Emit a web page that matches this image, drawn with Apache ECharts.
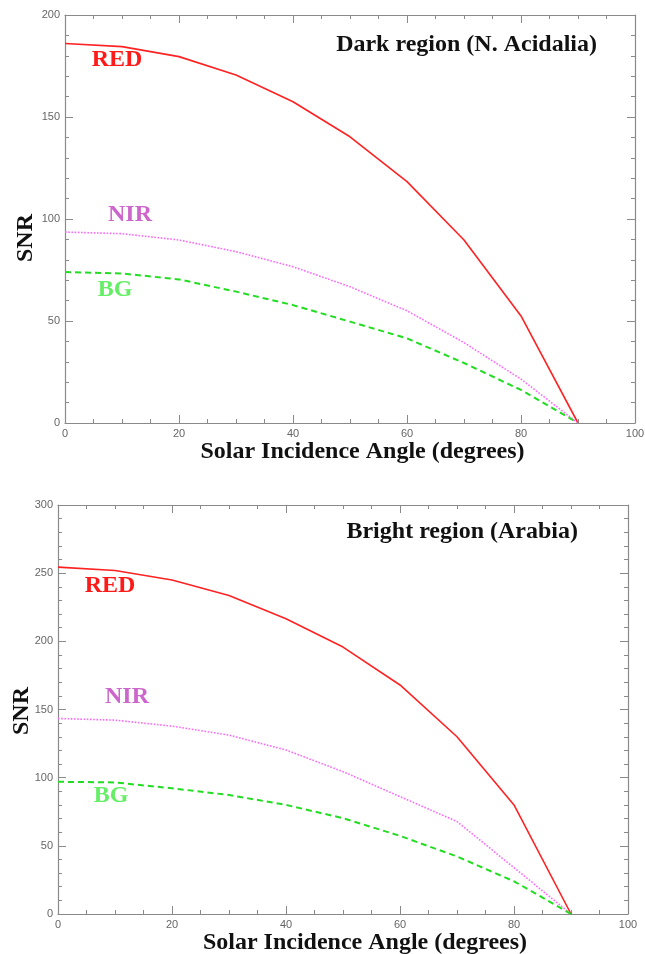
<!DOCTYPE html>
<html>
<head>
<meta charset="utf-8">
<script src="https://cdn.jsdelivr.net/npm/echarts@6/dist/echarts.min.js"></script>
<style>
html,body{margin:0;padding:0;background:#fff;}
#chart{width:645px;height:954px;}
</style>
</head>
<body>
<div id="chart"></div>
<script>
// Solar incidence angle (degrees)
const angles = [0, 10, 20, 30, 40, 50, 60, 70, 80, 90];

// Dark region (N. Acidalia)
const darkRed = [186, 184.5, 179.6, 170.6, 157.5, 140.3, 118.3, 89.7, 52.5, 0];
const darkNir = [93.6, 92.8, 89.7, 84, 76.6, 66.8, 55, 39.4, 21.5, 0];
const darkBg  = [74, 73.3, 70.4, 64.4, 57.8, 49.7, 41.5, 29.4, 16.2, 0];

// Bright region (Arabia)
const brightRed = [254.4, 252, 245, 233.6, 216.5, 195.8, 168, 130, 80, 0];
const brightNir = [143.4, 142.2, 137.8, 131.2, 120.3, 104.4, 86.1, 67.8, 34, 0];
const brightBg  = [97, 96.5, 92.2, 87.3, 80, 70.3, 57.3, 42.2, 24, 0];

const titles = ['Dark region (N. Acidalia)', 'Bright region (Arabia)'];
const xTitle = 'Solar Incidence Angle (degrees)';
const yTitle = 'SNR';
const bandNames = ['RED', 'NIR', 'BG'];

const pairs = (ys) => angles.map((a, i) => [a, ys[i]]);

const axisColor = '#8a8a8a';
const serif = '"Liberation Serif", "DejaVu Serif", serif';

function xAx(grid, pos, show, padLeft, gap) {
  return {
    type: 'value', gridIndex: grid, position: pos, min: 0, max: 100, interval: 20,
    axisLine: {show: true, onZero: false, lineStyle: {color: axisColor, width: 1.2}},
    axisTick: {show: true, inside: true, length: 8, lineStyle: {color: axisColor}},
    minorTick: {show: true, splitNumber: 4, length: 4, lineStyle: {color: axisColor}},
    splitLine: {show: false},
    axisLabel: {show: show, color: '#666', fontSize: 11, margin: 5, fontFamily: 'Liberation Sans, Arial, sans-serif'},
    name: show ? xTitle : '', nameLocation: 'middle', nameGap: gap || 20,
    nameTextStyle: {fontFamily: serif, fontWeight: 'bold', fontSize: 24, color: '#111', padding: [0, 0, 0, padLeft]}
  };
}
function yAx(grid, pos, show, max) {
  return {
    type: 'value', gridIndex: grid, position: pos, min: 0, max: max, interval: 50,
    axisLine: {show: true, onZero: false, lineStyle: {color: axisColor, width: 1.2}},
    axisTick: {show: true, inside: true, length: 8, lineStyle: {color: axisColor}},
    minorTick: {show: true, splitNumber: 5, length: 4, lineStyle: {color: axisColor}},
    splitLine: {show: false},
    axisLabel: {show: show, color: '#666', fontSize: 11, margin: 5, fontFamily: 'Liberation Sans, Arial, sans-serif'}
  };
}

function line(name, data, xi, yi, color, type, width) {
  return {
    name: name, type: 'line', xAxisIndex: xi, yAxisIndex: yi, data: data,
    showSymbol: false, smooth: false, silent: true,
    lineStyle: {color: color, width: width, type: type},
    itemStyle: {color: color}
  };
}

const redC = '#ff2222', nirC = '#ff66ff', bgC = '#22dd22';
const redL = '#ff1a1a', nirL = '#cc66cc', bgL = '#66ee66';

const txt = (x, y, text, color, size, align, rot) => ({
  type: 'text', x: x, y: y, rotation: rot || 0,
  style: {text: text, fill: color, font: 'bold ' + size + 'px ' + serif, align: align || 'center', verticalAlign: 'middle'}
});

const option = {
  animation: false,
  backgroundColor: '#fff',
  grid: [
    {left: 65, right: 10, top: 15, height: 408, containLabel: false, outerBoundsMode: 'none'},
    {left: 58, right: 17, top: 505, height: 409, containLabel: false, outerBoundsMode: 'none'}
  ],
  xAxis: [
    xAx(0, 'bottom', true, 25, 17), xAx(0, 'top', false, 0),
    xAx(1, 'bottom', true, 44, 15), xAx(1, 'top', false, 0)
  ],
  yAxis: [
    yAx(0, 'left', true, 200), yAx(0, 'right', false, 200),
    yAx(1, 'left', true, 300), yAx(1, 'right', false, 300)
  ],
  series: [
    line('RED', pairs(darkRed), 0, 0, redC, 'solid', 1.6),
    line('NIR', pairs(darkNir), 0, 0, nirC, 'dotted', 1.6),
    line('BG', pairs(darkBg), 0, 0, bgC, [6, 4], 2),
    line('RED', pairs(brightRed), 2, 2, redC, 'solid', 1.6),
    line('NIR', pairs(brightNir), 2, 2, nirC, 'dotted', 1.6),
    line('BG', pairs(brightBg), 2, 2, bgC, [6, 4], 2)
  ],
  graphic: [
    txt(597, 45, titles[0], '#111', 24, 'right'),
    txt(578, 532, titles[1], '#111', 24, 'right'),
    txt(117, 60, bandNames[0], redL, 24),
    txt(130, 215, bandNames[1], nirL, 24),
    txt(115, 290, bandNames[2], bgL, 24),
    txt(110, 586, bandNames[0], redL, 24),
    txt(127, 697, bandNames[1], nirL, 24),
    txt(111, 796, bandNames[2], bgL, 24),
    txt(26, 238, yTitle, '#111', 24, 'center', Math.PI / 2),
    txt(22, 711, yTitle, '#111', 24, 'center', Math.PI / 2)
  ]
};

const chart = echarts.init(document.getElementById('chart'), null, {renderer: 'canvas'});
chart.setOption(option);
</script>
</body>
</html>
